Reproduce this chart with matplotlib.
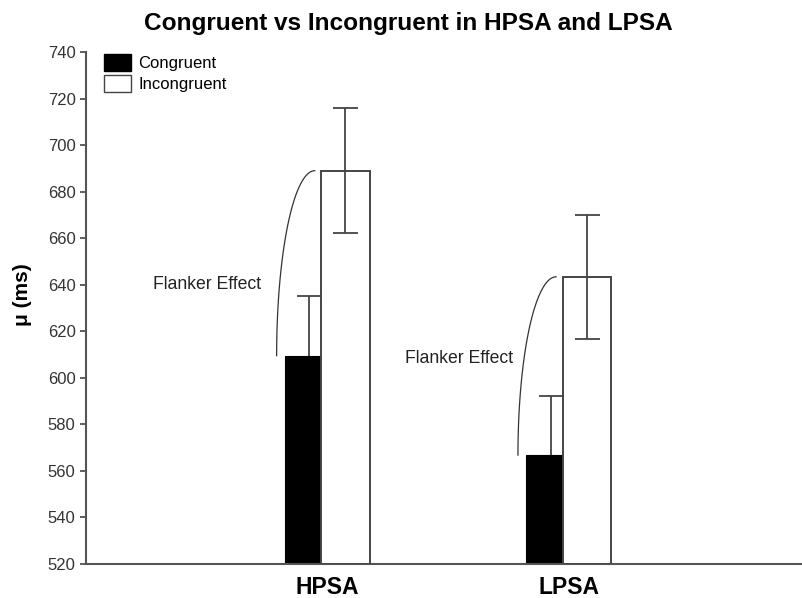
import numpy as np
import matplotlib
matplotlib.use('Agg')
import matplotlib.pyplot as plt
from matplotlib.patches import Patch

plt.rcParams['font.family'] = ['Liberation Sans', 'DejaVu Sans']

# Dados
groups = ['HPSA', 'LPSA']
congruent = [609.5, 566.8]
congruent_err = [25.6, 25.4]
incongruent = [689.0, 643.4]
incongruent_err = [26.9, 26.6]
yticks = [520, 540, 560, 580, 600, 620, 640, 660, 680, 700, 720, 740]

edge = '#444444'
x = np.arange(len(groups))
offset = 0.075
width = 0.2

fig = plt.figure(figsize=(8.02, 5.98), dpi=100)
ax = fig.add_axes([86 / 802, 34 / 598, 716 / 802, 512 / 598])

# barras congruentes (pretas) e erro por baixo delas
ax.errorbar(x - offset, congruent, yerr=congruent_err, fmt='none', ecolor=edge,
            elinewidth=1.3, capsize=9, capthick=1.3, zorder=1)
ax.bar(x - offset, np.array(congruent) - 520, width, bottom=520, color='black',
       edgecolor='black', linewidth=0.8, zorder=2, label='Congruent')
# barras incongruentes (brancas) por cima
ax.bar(x + offset, np.array(incongruent) - 520, width, bottom=520, color='white',
       edgecolor=edge, linewidth=1.4, zorder=3, label='Incongruent')
ax.errorbar(x + offset, incongruent, yerr=incongruent_err, fmt='none', ecolor=edge,
            elinewidth=1.3, capsize=9, capthick=1.3, zorder=4)

# curvas "Flanker Effect"
t = np.linspace(0, np.pi / 2, 60)
text_pos = [(-0.275, 640), (-0.228, 608.5)]
for i in range(len(groups)):
    x0 = x[i] - 0.21
    x1 = x[i] - 0.052
    cx = x1 - (x1 - x0) * np.cos(t)
    cy = congruent[i] + (incongruent[i] - congruent[i]) * np.sin(t)
    ax.plot(cx, cy, color='#333333', lw=0.9, zorder=5)
    ax.text(x[i] + text_pos[i][0], text_pos[i][1], 'Flanker Effect', ha='right',
            va='center', fontsize=12.7, color='#222222')

ax.set_xlim(-1.0, 1.967)
ax.set_ylim(520, 740)
ax.set_yticks(yticks)
ax.set_xticks(x)
ax.set_xticklabels(groups, fontsize=16.5, fontweight='bold')
ax.tick_params(axis='x', direction='in', length=3, pad=9, color=edge)
ax.tick_params(axis='y', direction='out', length=4, labelsize=12,
               color=edge, labelcolor='#333333', width=1.2)
for s in ['top', 'right']:
    ax.spines[s].set_visible(False)
for s in ['left', 'bottom']:
    ax.spines[s].set_color('#555555')
    ax.spines[s].set_linewidth(1.5)

handles = [Patch(facecolor='black', edgecolor='black', label='Congruent'),
           Patch(facecolor='white', edgecolor=edge, label='Incongruent')]
ax.legend(handles=handles, loc='upper left', bbox_to_anchor=(0.024, 0.997),
          frameon=False, fontsize=12, handlelength=1.62, handleheight=1.15,
          handletextpad=0.45, labelspacing=0.25, borderaxespad=0, borderpad=0.05)

fig.suptitle('Congruent vs Incongruent in HPSA and LPSA', x=408 / 802, y=0.98,
             fontsize=17.6, fontweight='bold')
fig.text(22 / 802, 303 / 598, 'μ (ms)', rotation=90, ha='center', va='center',
         fontsize=15, fontweight='bold')

fig.savefig('out.png', dpi=100)
